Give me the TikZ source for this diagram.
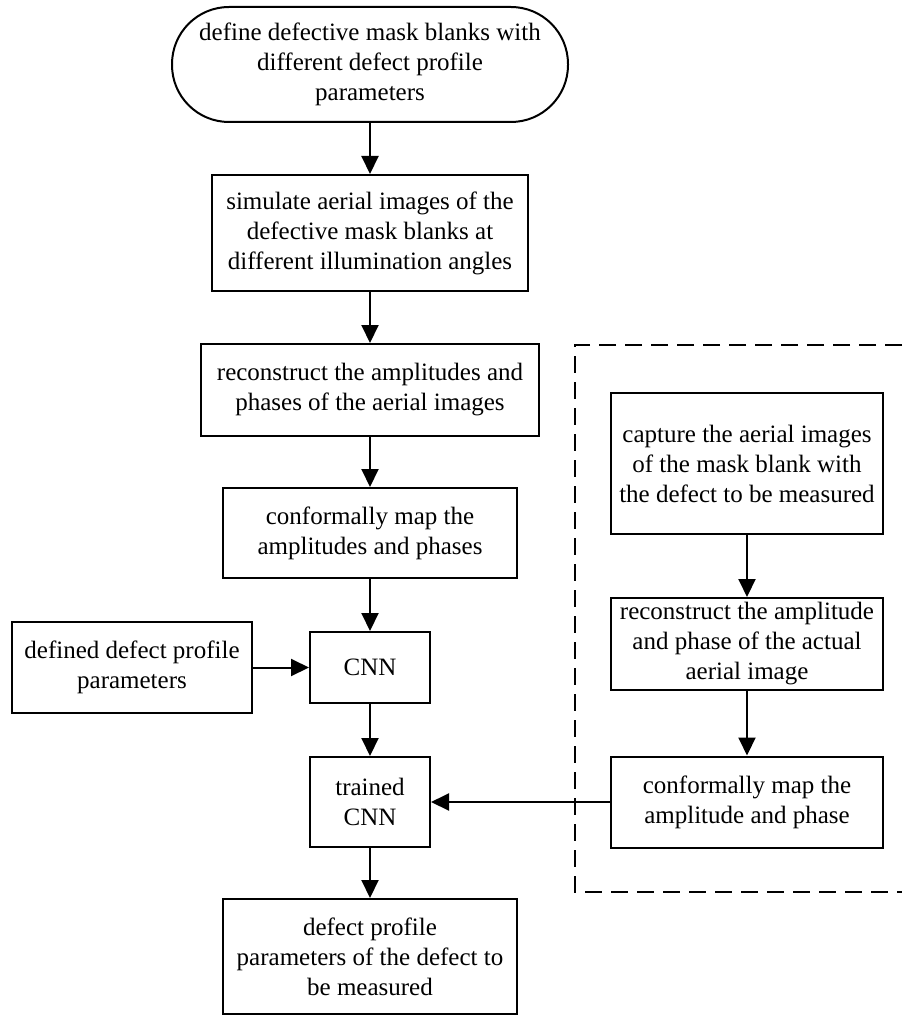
\documentclass[tikz,border=0pt]{standalone}
\usepackage{fontspec}
\setmainfont{Liberation Serif}
\usetikzlibrary{arrows.meta}
\begin{document}
\begin{tikzpicture}[x=1pt,y=-1pt,
  every node/.style={font=\fontsize{25}{30}\selectfont, align=center, inner sep=0pt},
  box/.style={draw, line width=2pt, rectangle},
  startbox/.style={draw, line width=2pt, rectangle, rounded corners=57pt},
  arr/.style={line width=2pt, -{Triangle[length=18pt,width=17pt]}},
  frame/.style={line width=2pt, dash pattern=on 17pt off 9pt}]
\useasboundingbox (0,0) rectangle (902,1016);
\node[startbox, minimum width=396pt, minimum height=115pt] (start) at (370,64.5)
  {define defective mask blanks with\\different defect profile\\parameters};
\node[box, minimum width=316pt, minimum height=116pt] (sim) at (370,233)
  {simulate aerial images of the\\defective mask blanks at\\different illumination angles};
\node[box, minimum width=338pt, minimum height=92pt] (recon) at (370,390)
  {reconstruct the amplitudes and\\phases of the aerial images};
\node[box, minimum width=294pt, minimum height=90pt] (conf) at (370,533)
  {conformally map the\\amplitudes and phases};
\node[box, minimum width=120pt, minimum height=71pt] (cnn) at (370,667.5) {CNN};
\node[box, minimum width=240pt, minimum height=91pt] (defined) at (132,667.5)
  {defined defect profile\\parameters};
\node[box, minimum width=120pt, minimum height=90pt] (trained) at (370,802)
  {trained\\CNN};
\node[box, minimum width=294pt, minimum height=115pt] (final) at (370,956.5)
  {defect profile\\parameters of the defect to\\be measured};
\node[box, minimum width=272pt, minimum height=141pt] (capture) at (747,463.5)
  {capture the aerial images\\of the mask blank with\\the defect to be measured};
\node[box, minimum width=272pt, minimum height=92pt] (recamp) at (747,644)
  {reconstruct the amplitude\\and phase of the actual\\aerial image};
\node[box, minimum width=272pt, minimum height=91pt] (confamp) at (747,802)
  {conformally map the\\amplitude and phase};
\coordinate (ftr) at (902,345);
\coordinate (ftl) at (575,345);
\coordinate (fbl) at (575,892);
\coordinate (fbr) at (902,892);
\draw[frame] (ftr) -- (ftl) -- (fbl) -- (fbr);
\draw[arr] (start) -- (sim);
\draw[arr] (sim) -- (recon);
\draw[arr] (recon) -- (conf);
\draw[arr] (conf) -- (cnn);
\draw[arr] (defined) -- (cnn);
\draw[arr] (cnn) -- (trained);
\draw[arr] (trained) -- (final);
\draw[arr] (capture) -- (recamp);
\draw[arr] (recamp) -- (confamp);
\draw[arr] (confamp) -- (trained);
\end{tikzpicture}
\end{document}
